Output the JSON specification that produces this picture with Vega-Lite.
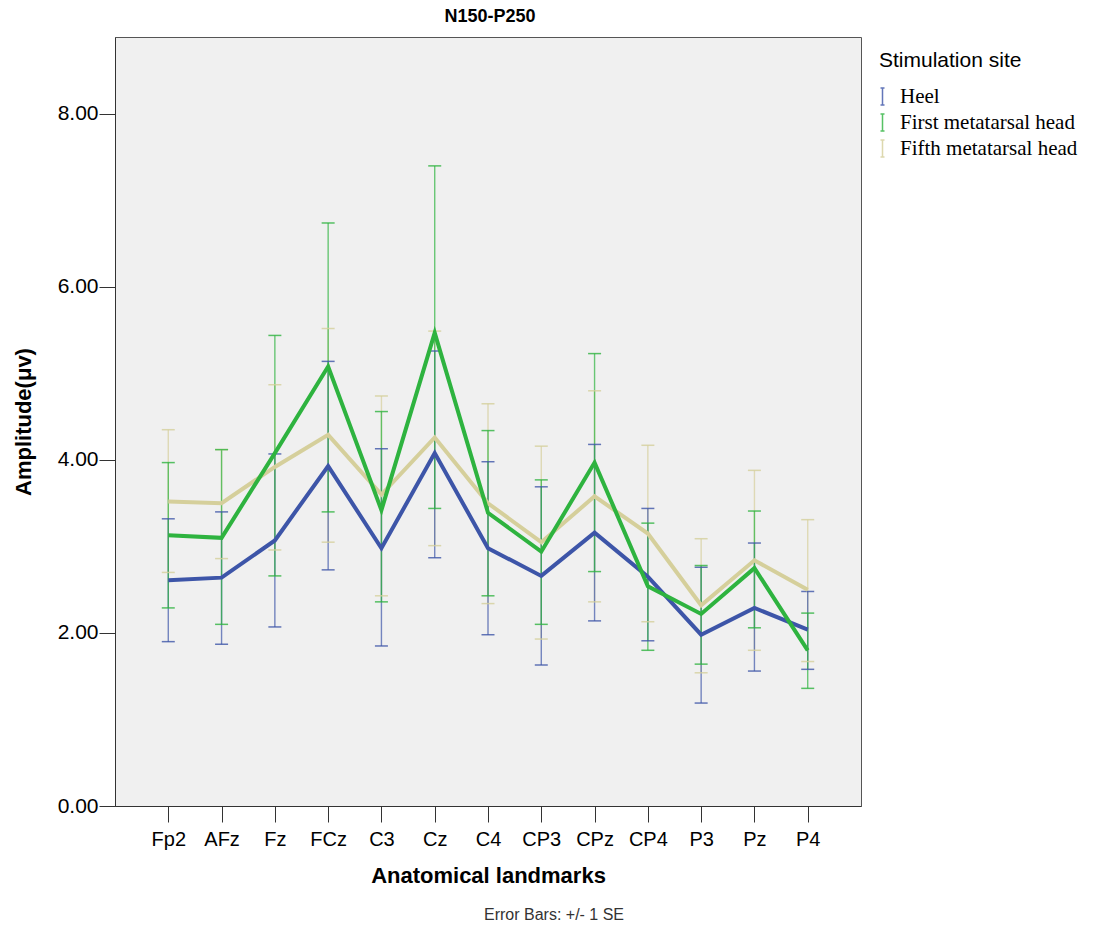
{
  "$schema": "https://vega.github.io/schema/vega-lite/v6.json",
  "background": "white",
  "padding": {"left": 11, "top": 7, "right": 5, "bottom": 2},
  "data": {"values": [
    {"site": "Fifth metatarsal head", "lm": "Fp2", "m": 3.52, "lo": 2.70, "hi": 4.35},
    {"site": "Fifth metatarsal head", "lm": "AFz", "m": 3.50, "lo": 2.86, "hi": 4.12},
    {"site": "Fifth metatarsal head", "lm": "Fz", "m": 3.92, "lo": 2.96, "hi": 4.87},
    {"site": "Fifth metatarsal head", "lm": "FCz", "m": 4.29, "lo": 3.05, "hi": 5.52},
    {"site": "Fifth metatarsal head", "lm": "C3", "m": 3.60, "lo": 2.43, "hi": 4.74},
    {"site": "Fifth metatarsal head", "lm": "Cz", "m": 4.26, "lo": 3.01, "hi": 5.49},
    {"site": "Fifth metatarsal head", "lm": "C4", "m": 3.50, "lo": 2.34, "hi": 4.65},
    {"site": "Fifth metatarsal head", "lm": "CP3", "m": 3.05, "lo": 1.93, "hi": 4.16},
    {"site": "Fifth metatarsal head", "lm": "CPz", "m": 3.58, "lo": 2.36, "hi": 4.80},
    {"site": "Fifth metatarsal head", "lm": "CP4", "m": 3.15, "lo": 2.13, "hi": 4.17},
    {"site": "Fifth metatarsal head", "lm": "P3", "m": 2.32, "lo": 1.54, "hi": 3.09},
    {"site": "Fifth metatarsal head", "lm": "Pz", "m": 2.84, "lo": 1.80, "hi": 3.88},
    {"site": "Fifth metatarsal head", "lm": "P4", "m": 2.50, "lo": 1.67, "hi": 3.31},
    {"site": "Heel", "lm": "Fp2", "m": 2.61, "lo": 1.90, "hi": 3.32},
    {"site": "Heel", "lm": "AFz", "m": 2.64, "lo": 1.87, "hi": 3.40},
    {"site": "Heel", "lm": "Fz", "m": 3.07, "lo": 2.07, "hi": 4.07},
    {"site": "Heel", "lm": "FCz", "m": 3.93, "lo": 2.73, "hi": 5.14},
    {"site": "Heel", "lm": "C3", "m": 2.98, "lo": 1.85, "hi": 4.13},
    {"site": "Heel", "lm": "Cz", "m": 4.08, "lo": 2.87, "hi": 5.26},
    {"site": "Heel", "lm": "C4", "m": 2.98, "lo": 1.98, "hi": 3.98},
    {"site": "Heel", "lm": "CP3", "m": 2.66, "lo": 1.63, "hi": 3.69},
    {"site": "Heel", "lm": "CPz", "m": 3.16, "lo": 2.14, "hi": 4.18},
    {"site": "Heel", "lm": "CP4", "m": 2.65, "lo": 1.91, "hi": 3.44},
    {"site": "Heel", "lm": "P3", "m": 1.98, "lo": 1.19, "hi": 2.76},
    {"site": "Heel", "lm": "Pz", "m": 2.29, "lo": 1.56, "hi": 3.04},
    {"site": "Heel", "lm": "P4", "m": 2.04, "lo": 1.58, "hi": 2.48},
    {"site": "First metatarsal head", "lm": "Fp2", "m": 3.13, "lo": 2.29, "hi": 3.97},
    {"site": "First metatarsal head", "lm": "AFz", "m": 3.10, "lo": 2.10, "hi": 4.12},
    {"site": "First metatarsal head", "lm": "Fz", "m": 4.08, "lo": 2.66, "hi": 5.44},
    {"site": "First metatarsal head", "lm": "FCz", "m": 5.08, "lo": 3.40, "hi": 6.74},
    {"site": "First metatarsal head", "lm": "C3", "m": 3.42, "lo": 2.36, "hi": 4.56},
    {"site": "First metatarsal head", "lm": "Cz", "m": 5.47, "lo": 3.44, "hi": 7.40},
    {"site": "First metatarsal head", "lm": "C4", "m": 3.39, "lo": 2.43, "hi": 4.34},
    {"site": "First metatarsal head", "lm": "CP3", "m": 2.94, "lo": 2.10, "hi": 3.77},
    {"site": "First metatarsal head", "lm": "CPz", "m": 3.97, "lo": 2.71, "hi": 5.23},
    {"site": "First metatarsal head", "lm": "CP4", "m": 2.54, "lo": 1.80, "hi": 3.27},
    {"site": "First metatarsal head", "lm": "P3", "m": 2.22, "lo": 1.64, "hi": 2.78},
    {"site": "First metatarsal head", "lm": "Pz", "m": 2.75, "lo": 2.06, "hi": 3.41},
    {"site": "First metatarsal head", "lm": "P4", "m": 1.80, "lo": 1.36, "hi": 2.23}
  ]},
  "title": {
    "text": "Error Bars: +/- 1 SE",
    "orient": "bottom",
    "anchor": "start",
    "frame": "group",
    "dx": 369,
    "fontSize": 16,
    "fontWeight": "normal",
    "font": "Liberation Sans",
    "color": "#333333",
    "offset": 20
  },
  "vconcat": [
    {
      "title": {
        "text": "N150-P250",
        "anchor": "middle",
        "dx": 2,
        "fontSize": 18,
        "fontWeight": "bold",
        "font": "Liberation Sans",
        "color": "#000000",
        "offset": 11
      },
      "width": 746,
      "height": 769,
      "encoding": {
        "x": {
          "field": "lm",
          "type": "nominal",
          "sort": ["Fp2", "AFz", "Fz", "FCz", "C3", "Cz", "C4", "CP3", "CPz", "CP4", "P3", "Pz", "P4"],
          "scale": {"type": "point", "padding": 1.17},
          "axis": {
            "title": "Anatomical landmarks",
            "labelAngle": 0,
            "labelFontSize": 20,
            "labelFont": "Liberation Sans",
            "labelColor": "#000000",
            "labelPadding": 7,
            "tickSize": 16,
            "tickColor": "#333333",
            "domainColor": "#333333",
            "titleFontSize": 22,
            "titleFont": "Liberation Sans",
            "titleFontWeight": "bold",
            "titleColor": "#000000",
            "titlePadding": 16
          }
        },
        "color": {
          "field": "site",
          "type": "nominal",
          "scale": {
            "domain": ["Heel", "First metatarsal head", "Fifth metatarsal head"],
            "range": ["#3D55A8", "#2EB33F", "#D5CF9B"]
          },
          "legend": {
            "title": "Stimulation site",
            "orient": "right",
            "offset": 4,
            "padding": 13,
            "titleFontSize": 21,
            "titleFont": "Liberation Sans",
            "titleFontWeight": "normal",
            "titleColor": "#000000",
            "titlePadding": 15,
            "labelFontSize": 21,
            "labelFont": "Liberation Serif",
            "labelColor": "#000000",
            "labelLimit": 300,
            "symbolType": "M-1.8,-1.7H-1.0M-1.4,-1.7V1.7M-1.8,1.7H-1.0",
            "symbolSize": 100,
            "symbolStrokeWidth": 1.5,
            "symbolOpacity": 0.8,
            "rowPadding": 3,
            "labelOffset": 0
          }
        }
      },
      "layer": [
        {
          "mark": {"type": "rule", "strokeWidth": 1.4, "opacity": 0.7},
          "encoding": {
            "y": {"field": "lo", "type": "quantitative"},
            "y2": {"field": "hi"}
          }
        },
        {
          "mark": {"type": "tick", "thickness": 1.5, "size": 13, "opacity": 0.8},
          "encoding": {
            "y": {"field": "lo", "type": "quantitative"}
          }
        },
        {
          "mark": {"type": "tick", "thickness": 1.5, "size": 13, "opacity": 0.8},
          "encoding": {
            "y": {"field": "hi", "type": "quantitative"}
          }
        },
        {
          "mark": {"type": "line", "strokeWidth": 4},
          "encoding": {
            "y": {
              "field": "m",
              "type": "quantitative",
              "scale": {"domain": [0, 8.89], "nice": false, "zero": true},
              "axis": {
                "title": "Amplitude(μv)",
                "values": [0, 2, 4, 6, 8],
                "format": ".2f",
                "grid": false,
                "labelFontSize": 21,
                "labelFont": "Liberation Sans",
                "labelColor": "#000000",
                "labelPadding": 1,
                "tickSize": 16,
                "tickColor": "#333333",
                "domainColor": "#333333",
                "titleFontSize": 22,
                "titleFont": "Liberation Sans",
                "titleFontWeight": "bold",
                "titleColor": "#000000",
                "titlePadding": 22
              }
            }
          }
        }
      ]
    }
  ],
  "config": {
    "view": {"fill": "#F0F0F0", "stroke": "#555555", "strokeWidth": 1}
  }
}
